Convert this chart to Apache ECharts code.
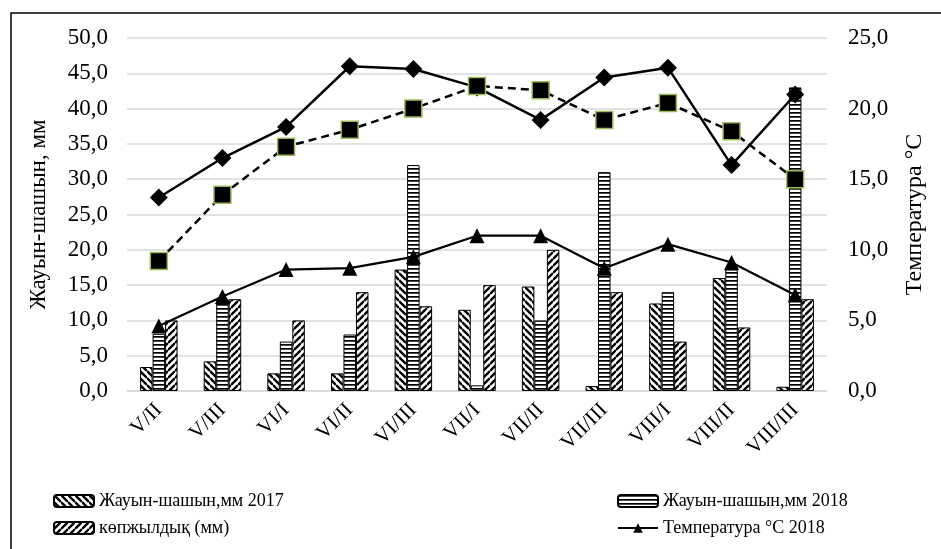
<!DOCTYPE html>
<html>
<head>
<meta charset="utf-8">
<script src="https://cdn.jsdelivr.net/npm/echarts@6/dist/echarts.min.js"></script>
<style>
  html, body { margin: 0; padding: 0; background: #fff; }
  #chart { width: 941px; height: 549px; }
</style>
</head>
<body>
<div id="chart"></div>
<script>
// data
const categories = ['V/II', 'V/III', 'VI/I', 'VI/II', 'VI/III', 'VII/I', 'VII/II', 'VII/III', 'VIII/I', 'VIII/II', 'VIII/III']
const rain2017 = [3.4, 4.2, 2.5, 2.5, 17.2, 11.5, 14.8, 0.7, 12.4, 16.0, 0.6]
const rain2018 = [8.1, 13.0, 7.0, 8.0, 32.0, 0.8, 10.0, 31.0, 14.0, 17.2, 43.0]
const rainNorm = [10.0, 13.0, 10.0, 14.0, 12.0, 15.0, 20.0, 14.0, 7.0, 9.0, 13.0]
const temp2018 = [4.6, 6.7, 8.6, 8.7, 9.5, 11.0, 11.0, 8.7, 10.4, 9.1, 6.8]
const tempDiamond = [13.7, 16.5, 18.7, 23.0, 22.8, 21.5, 19.2, 22.2, 22.9, 16.0, 21.0]
const tempSquare = [9.2, 13.9, 17.3, 18.5, 20.0, 21.6, 21.3, 19.2, 20.4, 18.4, 15.0]

const FONT = '"Liberation Serif", "DejaVu Serif", serif'

// hatch fills for the bars
const hatch = (kind) => {
  const s = kind === 'h' ? 4 : 7
  const c = document.createElement('canvas')
  c.width = s
  c.height = s
  const ctx = c.getContext('2d')
  ctx.fillStyle = '#fff'
  ctx.fillRect(0, 0, s, s)
  ctx.fillStyle = '#000'
  ctx.strokeStyle = '#000'
  if (kind === 'h') {
    ctx.fillRect(0, 0, s, 1.7)
    return c
  }
  ctx.lineWidth = 2.3
  for (const k of [-s, 0, s]) {
    ctx.beginPath()
    if (kind === 'b') {
      ctx.moveTo(0, k)
      ctx.lineTo(s, k + s)
    } else {
      ctx.moveTo(0, k + s)
      ctx.lineTo(s, k)
    }
    ctx.stroke()
  }
  return c
}

const fmt = (v) => v.toFixed(1).replace('.', ',')

const chart = echarts.init(document.getElementById('chart'))

const barStyle = (kind) => ({
  color: { image: hatch(kind), repeat: 'repeat' },
  borderColor: '#000',
  borderWidth: 1,
})

const legendBase = {
  orient: 'vertical',
  top: 487,
  itemWidth: 40,
  itemHeight: 12,
  itemGap: 9,
  textStyle: { fontFamily: FONT, fontSize: 18, color: '#000' },
}

chart.setOption({
  animation: false,
  backgroundColor: '#fff',
  textStyle: { fontFamily: FONT },
  grid: { left: 127, right: 114, top: 38, bottom: 158 },
  graphic: [
    {
      type: 'rect',
      shape: { x: 11, y: 13, width: 940, height: 600 },
      style: { fill: 'none', stroke: '#000', lineWidth: 1.5 },
      silent: true,
    },
  ],
  legend: [
    { ...legendBase, left: 48, data: ['Жауын-шашын,мм 2017', 'көпжылдық (мм)'] },
    { ...legendBase, left: 612, data: ['Жауын-шашын,мм 2018', 'Температура °С 2018'] },
  ],
  xAxis: {
    type: 'category',
    data: categories,
    axisLine: { lineStyle: { color: '#d9d9d9', width: 1.5 } },
    axisTick: { show: false },
    axisLabel: { rotate: 45, margin: 16, fontSize: 21, color: '#000', fontFamily: FONT },
  },
  yAxis: [
    {
      type: 'value',
      min: 0,
      max: 50,
      interval: 5,
      name: 'Жауын-шашын, мм',
      nameLocation: 'middle',
      nameGap: 77,
      nameTextStyle: { fontSize: 23, color: '#000', fontFamily: FONT },
      axisLabel: { formatter: fmt, fontSize: 23, color: '#000', margin: 19, fontFamily: FONT },
      axisLine: { show: false },
      axisTick: { show: false },
      splitLine: { lineStyle: { color: '#d9d9d9', width: 1.5 } },
    },
    {
      type: 'value',
      min: 0,
      max: 25,
      interval: 5,
      position: 'right',
      name: 'Температура °С',
      nameLocation: 'middle',
      nameGap: 76,
      nameRotate: 90,
      nameTextStyle: { fontSize: 24, color: '#000', fontFamily: FONT },
      axisLabel: { formatter: fmt, fontSize: 23, color: '#000', margin: 21, fontFamily: FONT },
      axisLine: { show: false },
      axisTick: { show: false },
      splitLine: { show: false },
    },
  ],
  series: [
    {
      name: 'Жауын-шашын,мм 2017',
      type: 'bar',
      data: rain2017,
      barWidth: 12.5,
      barGap: '0%',
      itemStyle: barStyle('b'),
    },
    {
      name: 'Жауын-шашын,мм 2018',
      type: 'bar',
      data: rain2018,
      barWidth: 12.5,
      barGap: '0%',
      itemStyle: barStyle('h'),
    },
    {
      name: 'көпжылдық (мм)',
      type: 'bar',
      data: rainNorm,
      barWidth: 12.5,
      barGap: '0%',
      itemStyle: barStyle('f'),
    },
    {
      name: 'Температура °С 2018',
      type: 'line',
      yAxisIndex: 1,
      data: temp2018,
      symbol: 'triangle',
      symbolSize: 15,
      itemStyle: { color: '#000' },
      lineStyle: { color: '#000', width: 2.2 },
      z: 3,
    },
    {
      name: 'Температура °С 2017',
      type: 'line',
      yAxisIndex: 1,
      data: tempDiamond,
      symbol: 'diamond',
      symbolSize: [18, 18],
      itemStyle: { color: '#000' },
      lineStyle: { color: '#000', width: 2.5 },
      z: 4,
    },
    {
      name: 'көпжылдық °С',
      type: 'line',
      yAxisIndex: 1,
      data: tempSquare,
      symbol: 'rect',
      symbolSize: 17,
      itemStyle: { color: '#000', borderColor: '#9bbb59', borderWidth: 1.5 },
      lineStyle: { color: '#000', width: 2.5, type: [8, 5] },
      z: 5,
    },
  ],
})
</script>
</body>
</html>
